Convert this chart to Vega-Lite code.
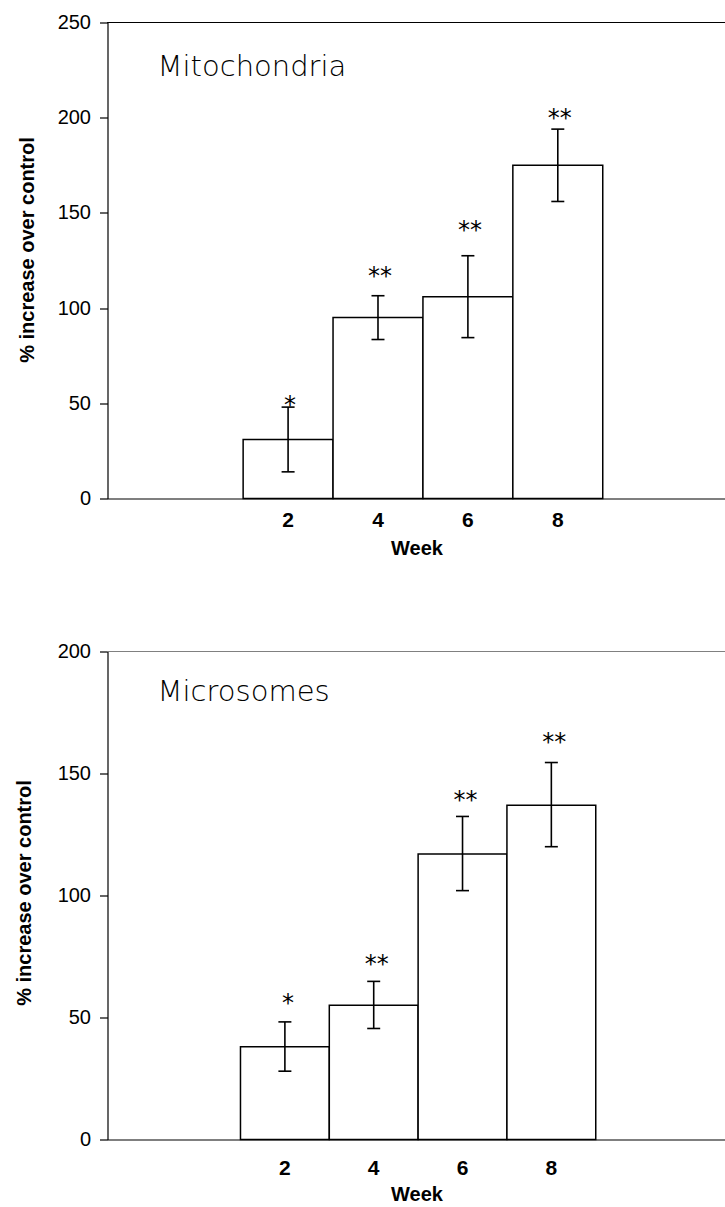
{
  "$schema": "https://vega.github.io/schema/vega-lite/v6.json",
  "background": "white",
  "padding": {"left": 14.5, "top": 12.5, "right": 0, "bottom": 0},
  "bounds": "flush",
  "spacing": 153,
  "config": {
    "view": {"stroke": null},
    "axis": {
      "domainColor": "black", "tickColor": "black", "labelColor": "black", "titleColor": "black",
      "labelFont": "Liberation Sans", "titleFont": "Liberation Sans", "grid": false,
      "domainWidth": 1.2, "tickWidth": 1.2
    }
  },
  "datasets": {
    "mito": [
      {"week": "2", "mean": 31, "lo": 14, "hi": 48, "stars": "*", "star_y": 52},
      {"week": "4", "mean": 95, "lo": 83.5, "hi": 106.5, "stars": "**", "star_y": 120},
      {"week": "6", "mean": 106, "lo": 84.5, "hi": 127.5, "stars": "**", "star_y": 144},
      {"week": "8", "mean": 175, "lo": 156, "hi": 194, "stars": "**", "star_y": 203}
    ],
    "micro": [
      {"week": "2", "mean": 38, "lo": 28, "hi": 48.2, "stars": "*", "star_y": 58.3},
      {"week": "4", "mean": 55, "lo": 45.5, "hi": 64.8, "stars": "**", "star_y": 74.2},
      {"week": "6", "mean": 117, "lo": 102, "hi": 132.4, "stars": "**", "star_y": 141.6},
      {"week": "8", "mean": 137, "lo": 120, "hi": 154.5, "stars": "**", "star_y": 165.2}
    ]
  },
  "vconcat": [
    {
      "width": 618,
      "height": 476,
      "title": {"text": "Mitochondria", "anchor": "start", "frame": "group", "font": "DejaVu Sans", "fontWeight": 200, "fontSize": 29, "color": "black", "dx": 50, "dy": 92, "offset": 0, "baseline": "alphabetic"},
      "data": {"name": "mito"},
      "layer": [
        {
          "mark": {"type": "bar", "fill": "white", "stroke": "black", "strokeWidth": 1.5},
          "encoding": {
            "x": {
              "field": "week", "type": "ordinal",
              "scale": {"domain": ["a", "2", "4", "6", "8", "b"], "paddingInner": 0, "paddingOuter": 0.437, "align": 0.582},
              "axis": {"values": ["2", "4", "6", "8"], "title": "Week", "titleFontSize": 20, "titleFontWeight": "bold", "labelFontSize": 21, "labelFontWeight": "bold", "labelAngle": 0, "ticks": false, "tickSize": 0, "labelPadding": 11, "titlePadding": 7.5}
            },
            "y": {
              "field": "mean", "type": "quantitative", "title": "% increase over control",
              "scale": {"domain": [0, 250], "nice": false},
              "axis": {"values": [0, 50, 100, 150, 200, 250], "labelFontSize": 20, "labelPadding": 9, "tickSize": 8, "titleFontSize": 20, "titleFontWeight": "bold", "titleX": -74, "titleY": 227, "titleBaseline": "alphabetic", "titleAlign": "center", "titleAngle": -90}
            }
          }
        },
        {
          "mark": {"type": "errorbar", "color": "black", "ticks": {"size": 13, "thickness": 1.6, "color": "black", "opacity": 1}, "rule": {"strokeWidth": 1.6, "color": "black", "opacity": 1}},
          "encoding": {
            "x": {"field": "week", "type": "ordinal"},
            "y": {"field": "lo", "type": "quantitative", "title": "% increase over control"},
            "y2": {"field": "hi"}
          }
        },
        {
          "mark": {"type": "text", "font": "DejaVu Sans", "fontSize": 24, "baseline": "alphabetic", "dy": 14, "dx": 2, "color": "black"},
          "encoding": {
            "x": {"field": "week", "type": "ordinal"},
            "y": {"field": "star_y", "type": "quantitative", "title": "% increase over control"},
            "text": {"field": "stars"}
          }
        },
        {
          "mark": {"type": "rule", "color": "black", "strokeWidth": 1.2},
          "encoding": {"y": {"datum": 250}}
        }
      ]
    },
    {
      "width": 618,
      "height": 488,
      "title": {"text": "Microsomes", "anchor": "start", "frame": "group", "font": "DejaVu Sans", "fontWeight": 200, "fontSize": 29, "color": "black", "dx": 50, "dy": 88.5, "offset": 0, "baseline": "alphabetic"},
      "data": {"name": "micro"},
      "layer": [
        {
          "mark": {"type": "bar", "fill": "white", "stroke": "black", "strokeWidth": 1.5},
          "encoding": {
            "x": {
              "field": "week", "type": "ordinal",
              "scale": {"domain": ["a", "2", "4", "6", "8", "b"], "paddingInner": 0, "paddingOuter": 0.479, "align": 0.519},
              "axis": {"values": ["2", "4", "6", "8"], "title": "Week", "titleFontSize": 20, "titleFontWeight": "bold", "labelFontSize": 21, "labelFontWeight": "bold", "labelAngle": 0, "ticks": false, "tickSize": 0, "labelPadding": 17.5, "titlePadding": 6}
            },
            "y": {
              "field": "mean", "type": "quantitative", "title": "% increase over control",
              "scale": {"domain": [0, 200], "nice": false},
              "axis": {"values": [0, 50, 100, 150, 200], "labelFontSize": 20, "labelPadding": 9, "tickSize": 8, "titleFontSize": 20, "titleFontWeight": "bold", "titleX": -77, "titleY": 241, "titleBaseline": "alphabetic", "titleAlign": "center", "titleAngle": -90}
            }
          }
        },
        {
          "mark": {"type": "errorbar", "color": "black", "ticks": {"size": 13, "thickness": 1.6, "color": "black", "opacity": 1}, "rule": {"strokeWidth": 1.6, "color": "black", "opacity": 1}},
          "encoding": {
            "x": {"field": "week", "type": "ordinal"},
            "y": {"field": "lo", "type": "quantitative", "title": "% increase over control"},
            "y2": {"field": "hi"}
          }
        },
        {
          "mark": {"type": "text", "font": "DejaVu Sans", "fontSize": 24, "baseline": "alphabetic", "dy": 14, "dx": 3, "color": "black"},
          "encoding": {
            "x": {"field": "week", "type": "ordinal"},
            "y": {"field": "star_y", "type": "quantitative", "title": "% increase over control"},
            "text": {"field": "stars"}
          }
        },
        {
          "mark": {"type": "rule", "color": "#808080", "strokeWidth": 1.2},
          "encoding": {"y": {"datum": 200}}
        }
      ]
    }
  ]
}
